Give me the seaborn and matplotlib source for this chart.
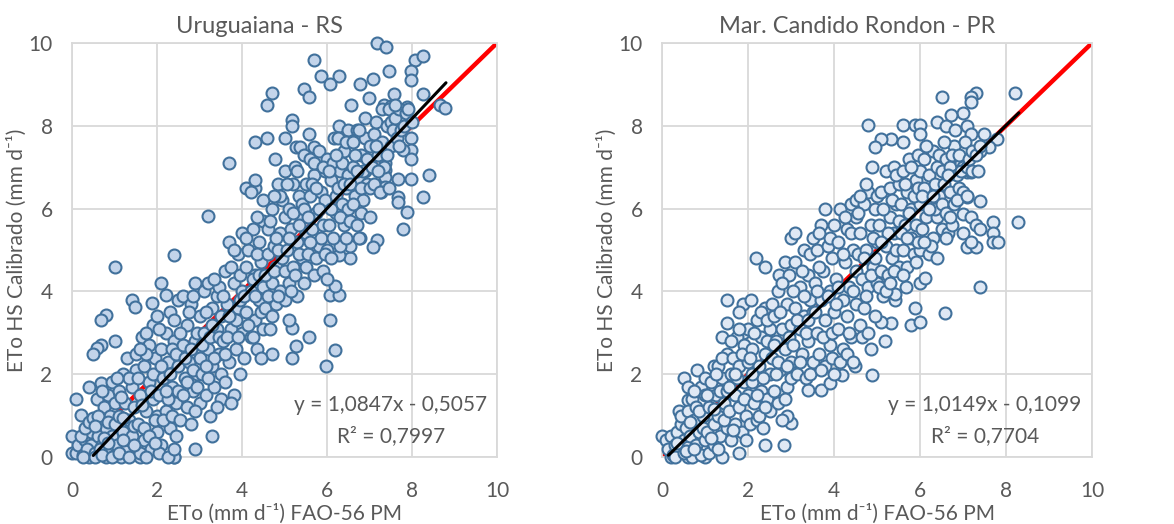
import numpy as np
import pandas as pd
import seaborn as sns
import matplotlib.pyplot as plt

# ETo FAO-56 PM (x) vs ETo Hargreaves-Samani calibrated (y)
uru_outer = [(7.18, 10.0), (7.39, 9.9), (5.69, 9.6), (8.08, 9.58), (8.27, 9.68), (7.47, 9.32),
             (7.98, 9.32), (7.98, 9.1), (5.87, 9.2), (6.28, 9.2), (6.08, 9.0), (7.08, 9.12),
             (6.77, 9.0), (5.45, 8.9), (5.58, 8.7), (4.7, 8.8), (4.59, 8.5), (6.56, 8.5),
             (6.98, 8.66), (7.58, 8.78), (8.27, 8.78), (8.67, 8.5), (8.78, 8.42), (7.33, 8.5),
             (7.5, 8.47), (7.88, 8.46), (5.18, 8.13), (5.18, 8.0), (6.28, 8.0), (5.57, 7.81),
             (4.3, 7.61), (4.59, 7.71), (5.0, 7.71), (5.26, 7.49), (5.37, 7.49), (5.69, 7.49),
             (6.16, 7.7), (7.98, 7.7), (7.98, 7.41), (7.79, 7.41), (7.98, 7.19), (7.37, 7.1),
             (7.37, 6.93), (7.37, 6.77), (7.66, 6.71), (7.98, 6.71), (8.39, 6.81), (7.37, 6.53),
             (7.27, 6.39), (7.66, 6.29), (7.66, 6.17), (8.27, 6.29), (7.88, 5.91), (7.79, 5.5),
             (7.18, 5.23), (7.08, 5.08), (3.69, 7.1), (4.78, 7.19), (3.19, 5.82), (4.09, 6.5),
             (4.31, 6.5), (4.31, 6.68), (2.1, 4.2), (2.39, 4.88), (1.0, 4.6), (1.4, 3.8),
             (1.49, 3.62), (0.81, 3.43), (0.69, 3.3), (1.88, 3.73), (2.2, 3.92), (1.0, 2.81),
             (0.69, 2.71), (0.59, 2.63), (0.49, 2.49), (0.39, 1.7), (0.69, 1.78), (0.1, 1.4),
             (0.2, 1.02), (0.0, 0.5), (0.0, 0.1), (0.59, 1.4), (3.3, 0.5), (2.9, 0.19),
             (2.39, 0.0), (6.08, 3.3), (6.18, 2.59), (5.98, 2.19), (5.58, 2.89), (5.26, 2.69),
             (5.18, 2.39), (5.18, 3.11), (5.1, 3.3), (4.7, 2.49), (6.08, 3.91), (6.28, 3.91),
             (6.18, 4.12), (6.55, 4.8), (6.55, 5.1), (6.78, 5.3), (6.28, 4.88)]

uru_core = [(0.1, 0.1), (0.15, 0.3), (0.25, 0.05), (0.3, 0.4), (0.35, 0.15), (0.4, 0.0), (0.45, 0.6),
            (0.5, 0.25), (0.2, 0.5), (0.3, 0.7), (0.4, 0.85), (0.5, 0.95), (0.45, 0.3), (0.35, 0.2),
            (0.55, 0.1), (0.6, 0.5), (0.65, 0.9), (0.7, 0.3), (0.75, 1.2), (0.8, 0.0), (0.8, 0.7),
            (0.85, 1.5), (0.9, 0.2), (0.9, 1.0), (0.95, 0.5), (1.0, 1.3), (1.0, 0.05), (0.6, 1.0),
            (0.7, 1.6), (0.95, 1.8), (0.65, 0.2), (0.75, 0.45), (0.85, 0.85), (1.0, 0.8), (0.55, 0.75),
            (1.05, 0.3), (1.1, 1.0), (1.1, 1.6), (1.15, 0.0), (1.2, 2.0), (1.2, 0.6), (1.25, 1.3),
            (1.3, 0.2), (1.3, 2.4), (1.35, 0.9), (1.4, 1.7), (1.4, 0.5), (1.45, 1.2), (1.5, 2.1),
            (1.5, 0.1), (1.5, 2.5), (1.25, 0.15), (1.35, 1.9), (1.45, 0.75), (1.05, 1.9), (1.15, 1.45),
            (1.2, 0.95), (1.55, 0.8), (1.6, 1.5), (1.6, 0.0), (1.65, 2.9), (1.7, 0.4), (1.7, 2.2),
            (1.75, 1.1), (1.8, 1.8), (1.8, 2.7), (1.85, 0.2), (1.9, 1.4), (1.9, 3.2), (1.95, 2.4),
            (2.0, 0.6), (2.0, 1.0), (2.0, 2.0), (1.55, 1.9), (1.65, 1.25), (1.75, 2.5), (1.85, 1.6),
            (1.95, 0.9), (1.7, 0.7), (1.6, 2.6), (1.8, 0.5), (1.9, 2.0), (2.0, 3.4), (1.75, 3.0),
            (2.05, 1.5), (2.1, 2.6), (2.1, 0.3), (2.15, 1.9), (2.2, 3.0), (2.2, 1.1), (2.25, 2.3),
            (2.3, 0.7), (2.3, 3.5), (2.35, 1.7), (2.4, 2.8), (2.4, 0.0), (2.45, 1.3), (2.5, 2.2),
            (2.5, 3.8), (2.05, 3.1), (2.15, 0.9), (2.25, 1.4), (2.35, 2.6), (2.45, 0.5), (2.5, 1.6),
            (2.3, 2.0), (2.4, 3.3), (2.2, 1.6), (2.45, 2.5), (2.1, 2.2), (2.35, 1.0),
            (2.55, 0.9), (2.6, 2.7), (2.6, 3.9), (2.65, 1.9), (2.7, 1.2), (2.7, 3.2), (2.75, 2.3),
            (2.8, 0.8), (2.8, 3.7), (2.85, 1.6), (2.9, 2.8), (2.9, 4.2), (2.95, 2.0), (3.0, 1.3),
            (3.0, 3.4), (2.6, 1.5), (2.65, 2.4), (2.75, 3.5), (2.85, 2.1), (2.95, 3.0), (2.55, 3.0),
            (2.7, 1.8), (2.8, 2.6), (2.9, 1.1), (3.0, 2.4), (2.85, 3.9), (2.95, 1.7),
            (3.05, 2.0), (3.1, 3.0), (3.1, 4.0), (3.15, 1.5), (3.2, 2.6), (3.2, 4.2), (3.25, 1.0),
            (3.3, 3.6), (3.3, 2.2), (3.35, 1.7), (3.4, 3.1), (3.4, 3.9), (3.45, 2.5), (3.5, 1.4),
            (3.5, 3.4), (3.05, 2.7), (3.15, 3.5), (3.25, 2.9), (3.35, 2.4), (3.45, 4.1), (3.5, 2.0),
            (3.2, 1.9), (3.3, 3.2), (3.4, 1.2), (3.45, 2.9), (3.15, 2.2), (3.35, 4.3),
            (3.55, 2.8), (3.6, 4.5), (3.6, 1.8), (3.65, 3.7), (3.7, 2.3), (3.7, 5.2), (3.75, 3.1),
            (3.8, 1.5), (3.8, 4.2), (3.85, 2.6), (3.9, 3.6), (3.9, 4.9), (3.95, 2.0), (4.0, 3.0),
            (4.0, 4.0), (4.0, 5.4), (3.55, 3.9), (3.65, 2.9), (3.75, 4.6), (3.85, 3.3), (3.95, 4.4),
            (3.6, 2.5), (3.7, 3.4), (3.8, 5.0), (3.9, 2.9), (3.75, 1.3), (3.95, 3.8),
            (4.05, 2.4), (4.1, 3.5), (4.1, 4.6), (4.15, 5.0), (4.2, 2.9), (4.2, 4.0), (4.25, 5.5),
            (4.3, 3.3), (4.3, 4.4), (4.35, 2.6), (4.4, 3.8), (4.4, 5.2), (4.45, 4.7), (4.5, 3.1),
            (4.5, 4.1), (4.5, 5.7), (4.05, 3.9), (4.15, 3.2), (4.25, 4.3), (4.35, 4.9), (4.45, 3.5),
            (4.2, 6.4), (4.35, 5.8), (4.45, 2.4), (4.1, 5.3), (4.3, 3.9), (4.4, 4.4), (4.5, 6.2),
            (4.25, 2.9), (4.55, 3.6), (4.6, 4.9), (4.6, 5.5), (4.65, 3.1), (4.7, 4.2), (4.7, 6.0),
            (4.75, 5.1), (4.8, 3.7), (4.8, 4.6), (4.85, 6.6), (4.9, 5.4), (4.9, 4.0), (4.95, 4.8),
            (5.0, 3.8), (5.0, 5.8), (5.0, 6.9), (4.55, 4.4), (4.65, 5.7), (4.75, 4.5), (4.85, 5.0),
            (4.95, 6.2), (4.6, 3.9), (4.7, 3.4), (4.8, 5.3), (4.9, 6.3), (4.75, 6.3), (5.0, 4.5),
            (4.85, 3.9), (5.05, 5.0), (5.1, 4.2), (5.1, 6.0), (5.15, 5.5), (5.2, 6.6), (5.2, 4.6),
            (5.25, 7.0), (5.3, 5.2), (5.3, 3.9), (5.35, 6.3), (5.4, 4.8), (5.4, 5.8), (5.45, 7.3),
            (5.5, 5.4), (5.5, 6.6), (5.05, 6.6), (5.15, 4.0), (5.25, 4.4), (5.35, 5.6), (5.45, 4.2),
            (5.5, 4.6), (5.2, 5.9), (5.3, 6.9), (5.4, 6.1), (5.1, 5.3), (5.45, 6.0), (5.35, 4.9),
            (5.55, 4.9), (5.6, 6.3), (5.6, 7.2), (5.65, 5.5), (5.7, 4.4), (5.7, 6.8), (5.75, 5.9),
            (5.8, 5.1), (5.8, 7.4), (5.85, 6.4), (5.9, 4.5), (5.9, 5.6), (5.95, 6.9), (6.0, 5.0),
            (6.0, 6.1), (6.0, 7.2), (5.55, 5.8), (5.65, 6.6), (5.75, 4.8), (5.85, 5.3), (5.95, 6.2),
            (5.6, 5.2), (5.7, 7.1), (5.8, 6.0), (5.9, 7.0), (5.95, 4.9), (6.0, 4.3), (5.75, 6.5),
            (6.05, 5.6), (6.1, 6.7), (6.1, 4.8), (6.15, 7.1), (6.2, 5.9), (6.2, 6.3), (6.25, 7.7),
            (6.3, 5.1), (6.3, 6.9), (6.35, 6.1), (6.4, 7.4), (6.4, 5.6), (6.45, 6.5), (6.5, 7.9),
            (6.5, 6.0), (6.05, 6.9), (6.15, 5.3), (6.25, 6.5), (6.35, 7.1), (6.45, 5.3), (6.5, 6.8),
            (6.2, 7.3), (6.3, 5.8), (6.4, 6.6), (6.1, 6.0), (6.45, 7.6),
            (6.55, 5.7), (6.6, 7.0), (6.6, 7.6), (6.65, 6.3), (6.7, 7.9), (6.7, 5.6), (6.75, 6.7),
            (6.8, 7.3), (6.8, 5.9), (6.85, 6.2), (6.9, 7.7), (6.9, 6.9), (6.95, 6.6), (7.0, 7.5),
            (7.0, 5.8), (6.55, 6.6), (6.65, 7.3), (6.75, 7.9), (6.85, 6.9), (6.95, 7.2), (6.6, 6.1),
            (6.7, 6.9), (6.8, 6.5), (7.0, 6.5), (6.9, 8.2), (6.75, 5.3),
            (7.05, 7.0), (7.1, 7.8), (7.1, 6.6), (7.15, 8.1), (7.2, 7.3), (7.25, 6.4), (7.3, 7.6),
            (7.3, 8.4), (7.35, 7.0), (7.4, 8.0), (7.45, 6.5), (7.5, 7.5), (7.5, 8.1), (7.2, 6.9),
            (7.4, 7.3), (7.15, 7.5), (7.45, 8.4), (7.55, 7.9), (7.6, 8.2), (7.65, 7.7), (7.7, 8.4),
            (7.75, 7.9), (7.8, 8.0), (7.85, 8.3), (7.9, 8.4), (8.0, 8.1), (7.7, 7.5), (7.6, 8.5),
            (0.25, 0.0), (0.55, 0.0), (0.7, 0.05), (0.95, 0.0), (1.1, 0.1), (1.35, 0.0), (1.6, 0.1),
            (1.75, 0.0), (2.05, 0.1), (2.25, 0.0), (2.4, 0.2), (1.45, 0.3), (0.85, 0.35), (1.2, 0.4),
            (1.95, 0.35)]

mcr_outer = [(8.22, 8.79), (7.3, 8.79), (7.19, 8.7), (7.19, 8.58), (6.51, 8.7), (6.99, 8.3),
             (6.71, 8.26), (6.4, 8.1), (6.6, 7.99), (4.79, 8.01), (5.6, 8.01), (5.89, 8.01),
             (6.01, 8.01), (6.81, 7.89), (7.09, 7.99), (7.19, 7.81), (7.48, 7.81), (7.79, 7.69),
             (7.6, 7.49), (7.4, 7.4), (5.32, 7.69), (5.09, 7.69), (4.96, 7.49), (5.6, 7.61),
             (4.88, 7.01), (6.01, 7.81), (7.09, 6.89), (7.19, 6.89), (7.09, 6.29), (7.4, 6.18),
             (6.99, 5.88), (7.19, 5.8), (7.3, 5.6), (7.4, 5.5), (7.69, 5.68), (7.69, 5.4),
             (7.69, 5.2), (7.81, 5.2), (8.29, 5.68), (6.99, 5.4), (7.09, 5.08), (7.3, 5.08),
             (7.19, 5.2), (7.4, 4.1), (6.59, 3.49), (5.8, 3.19), (5.89, 3.59), (6.01, 3.27),
             (5.67, 4.1), (6.01, 4.2), (6.11, 4.32), (5.41, 3.79), (5.41, 3.94), (5.32, 3.23),
             (5.09, 3.27), (5.19, 2.81), (4.88, 1.99), (2.19, 4.8), (2.39, 4.6), (2.71, 4.4),
             (1.5, 3.79), (1.89, 3.7), (1.78, 3.51), (1.5, 3.23), (1.4, 2.89), (1.89, 2.99),
             (2.08, 3.79), (0.81, 2.1), (1.2, 2.19), (0.5, 1.9), (0.6, 1.7), (0.6, 1.38),
             (0.4, 1.1), (0.0, 0.5), (0.1, 0.4), (2.83, 0.3), (2.39, 0.3), (3.01, 0.82),
             (2.91, 1.0), (3.4, 1.62), (3.69, 1.62), (1.8, 0.1), (1.01, 0.0), (0.6, 0.0),
             (0.2, 0.0), (4.48, 2.19), (4.19, 1.99), (3.91, 1.78)]

mcr_core = [(0.15, 0.2), (0.2, 0.5), (0.25, 0.05), (0.3, 0.3), (0.35, 0.6), (0.4, 0.15), (0.45, 0.8),
            (0.5, 0.4), (0.3, 0.0), (0.45, 1.0), (0.5, 0.1), (0.35, 0.35),
            (0.55, 0.7), (0.6, 1.1), (0.6, 0.25), (0.65, 0.5), (0.7, 1.4), (0.7, 0.0), (0.75, 0.9),
            (0.8, 0.3), (0.8, 1.2), (0.85, 0.6), (0.9, 1.7), (0.9, 0.05), (0.95, 1.0), (1.0, 0.4),
            (1.0, 1.5), (0.55, 0.15), (0.65, 0.85), (0.75, 0.2), (0.85, 1.1), (0.95, 0.7), (1.0, 1.9),
            (0.75, 1.6), (1.05, 0.6), (1.1, 1.2), (1.1, 0.1), (1.15, 1.8), (1.2, 0.8), (1.2, 0.3),
            (1.25, 1.5), (1.3, 2.2), (1.3, 1.0), (1.35, 0.5), (1.4, 1.9), (1.4, 0.0), (1.45, 1.3),
            (1.5, 0.7), (1.5, 2.5), (1.05, 1.5), (1.15, 0.45), (1.25, 2.0), (1.35, 1.6), (1.45, 0.9),
            (1.5, 1.6), (1.2, 1.15), (1.4, 2.4), (1.3, 0.2),
            (1.55, 1.1), (1.6, 2.0), (1.6, 0.4), (1.65, 2.4), (1.7, 1.5), (1.7, 0.8), (1.75, 2.9),
            (1.8, 1.2), (1.8, 2.2), (1.85, 0.6), (1.9, 1.8), (1.9, 2.7), (1.95, 1.0), (2.0, 2.3),
            (2.0, 1.5), (2.0, 3.1), (1.55, 1.7), (1.65, 0.65), (1.75, 1.9), (1.85, 2.5), (1.95, 0.4),
            (1.6, 2.8), (1.8, 3.1), (1.7, 2.0), (1.9, 1.4),
            (2.05, 0.8), (2.1, 1.8), (2.1, 2.6), (2.15, 1.3), (2.2, 3.3), (2.2, 0.9), (2.25, 2.2),
            (2.3, 1.6), (2.3, 2.9), (2.35, 0.7), (2.4, 2.5), (2.4, 3.6), (2.45, 1.4), (2.5, 2.0),
            (2.5, 3.1), (2.05, 2.4), (2.15, 3.0), (2.25, 1.0), (2.35, 1.9), (2.45, 2.8), (2.5, 1.1),
            (2.2, 1.5), (2.3, 3.5), (2.4, 1.2), (2.1, 2.0), (2.45, 3.3),
            (2.55, 2.4), (2.6, 1.6), (2.6, 3.4), (2.65, 2.8), (2.7, 1.3), (2.7, 4.0), (2.75, 2.1),
            (2.8, 3.1), (2.8, 0.9), (2.85, 2.6), (2.9, 3.7), (2.9, 1.7), (2.95, 4.4), (3.0, 2.3),
            (3.0, 3.2), (3.0, 5.3), (2.55, 3.7), (2.65, 2.0), (2.75, 3.5), (2.85, 1.4), (2.95, 2.9),
            (2.6, 2.7), (2.7, 2.3), (2.8, 4.2), (2.9, 2.2), (3.0, 1.9), (2.85, 4.7),
            (3.05, 2.7), (3.1, 3.6), (3.1, 4.7), (3.15, 2.0), (3.2, 3.1), (3.2, 4.1), (3.25, 2.5),
            (3.3, 5.0), (3.3, 3.4), (3.35, 1.9), (3.4, 4.4), (3.4, 2.8), (3.45, 3.8), (3.5, 5.3),
            (3.5, 2.3), (3.05, 4.0), (3.15, 3.3), (3.25, 4.5), (3.35, 3.0), (3.45, 4.9), (3.5, 3.5),
            (3.2, 2.3), (3.3, 3.9), (3.4, 3.3), (3.1, 5.4), (3.45, 2.0),
            (3.55, 4.2), (3.6, 3.0), (3.6, 5.0), (3.65, 2.5), (3.7, 3.8), (3.7, 5.6), (3.75, 4.5),
            (3.8, 2.2), (3.8, 3.3), (3.85, 5.1), (3.9, 4.0), (3.9, 2.7), (3.95, 4.8), (4.0, 3.5),
            (4.0, 5.6), (4.0, 2.0), (3.55, 3.5), (3.65, 4.6), (3.75, 2.9), (3.85, 3.9), (3.95, 3.0),
            (3.6, 4.0), (3.7, 2.1), (3.8, 6.0), (3.9, 5.3), (3.95, 2.4), (3.65, 5.4),
            (4.05, 4.3), (4.1, 3.1), (4.1, 5.2), (4.15, 6.0), (4.2, 3.8), (4.2, 2.6), (4.25, 4.7),
            (4.3, 5.5), (4.3, 3.4), (4.35, 4.1), (4.4, 6.1), (4.4, 2.9), (4.45, 5.0), (4.5, 3.7),
            (4.5, 4.5), (4.5, 5.8), (4.05, 3.7), (4.15, 2.3), (4.25, 5.8), (4.35, 3.0), (4.45, 4.0),
            (4.2, 4.9), (4.3, 2.5), (4.4, 5.4), (4.1, 4.1), (4.45, 2.3), (4.5, 6.2),
            (4.55, 4.9), (4.6, 3.2), (4.6, 5.4), (4.65, 4.3), (4.7, 6.1), (4.7, 3.6), (4.75, 5.0),
            (4.8, 4.1), (4.8, 6.4), (4.85, 2.6), (4.85, 5.6), (4.9, 4.6), (4.95, 3.4), (5.0, 5.2),
            (5.0, 6.3), (5.0, 4.2), (4.55, 5.9), (4.65, 2.9), (4.75, 3.9), (4.85, 4.4), (4.95, 6.0),
            (4.6, 6.3), (4.7, 4.8), (4.8, 3.0), (4.9, 5.3), (4.95, 4.8), (4.75, 6.6),
            (5.05, 5.6), (5.1, 4.5), (5.1, 6.4), (5.15, 3.9), (5.2, 5.1), (5.2, 6.9), (5.25, 4.4),
            (5.3, 5.8), (5.3, 6.5), (5.35, 4.8), (5.4, 5.4), (5.4, 7.0), (5.45, 6.1), (5.5, 4.6),
            (5.5, 5.7), (5.05, 4.1), (5.15, 6.0), (5.25, 5.4), (5.35, 6.2), (5.45, 5.0), (5.5, 6.6),
            (5.2, 4.0), (5.3, 4.2), (5.4, 4.5), (5.1, 5.2), (5.45, 6.8),
            (5.55, 6.1), (5.6, 5.0), (5.6, 6.9), (5.65, 5.6), (5.7, 4.6), (5.7, 6.4), (5.75, 7.2),
            (5.8, 5.3), (5.8, 6.0), (5.85, 4.9), (5.9, 6.7), (5.9, 5.6), (5.95, 7.3), (6.0, 6.1),
            (6.0, 5.0), (6.0, 6.9), (5.55, 5.4), (5.65, 6.6), (5.75, 5.9), (5.85, 6.3), (5.95, 5.2),
            (5.6, 4.4), (5.7, 5.3), (5.8, 7.0), (5.9, 4.7), (5.95, 6.5),
            (6.05, 5.5), (6.1, 6.5), (6.1, 7.2), (6.15, 5.8), (6.2, 4.9), (6.2, 6.8), (6.25, 6.2),
            (6.3, 7.4), (6.3, 5.3), (6.35, 6.6), (6.4, 5.8), (6.4, 7.0), (6.45, 6.3), (6.5, 5.5),
            (6.5, 6.9), (6.05, 6.3), (6.15, 7.5), (6.25, 5.1), (6.35, 6.0), (6.45, 7.3), (6.2, 6.0),
            (6.4, 4.8), (6.1, 5.2), (6.3, 6.3), (6.5, 6.1),
            (6.55, 6.6), (6.6, 7.2), (6.6, 5.9), (6.65, 5.4), (6.7, 6.4), (6.7, 7.0), (6.75, 5.6),
            (6.8, 7.5), (6.8, 6.1), (6.85, 6.8), (6.9, 6.5), (6.95, 7.1), (7.0, 7.0), (7.0, 6.4),
            (6.55, 7.6), (6.65, 6.8), (6.75, 7.3), (6.85, 6.2), (6.9, 7.3), (6.6, 5.3), (6.7, 5.8),
            (6.95, 6.9), (7.05, 7.6), (7.1, 7.0), (7.15, 7.2), (7.2, 7.4), (7.3, 7.3), (7.4, 7.5),
            (7.1, 6.3), (7.2, 6.9), (7.35, 6.9)]

titles = ["Uruguaiana - RS", "Mar. Candido Rondon - PR"]
slopes = [1.0847, 1.0149]
intercepts = [-0.5057, -0.1099]
r2 = ["0,7997", "0,7704"]
eq_text = ["y = 1,0847x - 0,5057", "y = 1,0149x - 0,1099"]
trend_x = [(0.5, 8.8), (0.15, 8.3)]
fills = ["#c3d4ea", "#dfe8f4"]

sns.set_style("white")
plt.rcParams["font.family"] = ["Lato", "DejaVu Sans"]
gray = "#595959"
edge = "#41719c"

fig = plt.figure(figsize=(11.74, 5.24), dpi=100)
axes = [fig.add_axes([72 / 1174, 67 / 524, 425 / 1174, 414 / 524]),
        fig.add_axes([662 / 1174, 67 / 524, 430 / 1174, 414 / 524])]

for i, (ax, pts) in enumerate(zip(axes, [uru_outer + uru_core, mcr_outer + mcr_core])):
    df = pd.DataFrame(pts, columns=["x", "y"])
    one = pd.DataFrame({"x": [0, 10], "y": [0, 10]})
    sns.lineplot(data=one, x="x", y="y", ax=ax, color="#ff0000", linewidth=3.2, zorder=2)
    sns.scatterplot(data=df, x="x", y="y", ax=ax, s=74, color=fills[i], edgecolor=edge,
                    linewidth=1.5, zorder=3, clip_on=False)
    tx = np.array(trend_x[i])
    tr = pd.DataFrame({"x": tx, "y": slopes[i] * tx + intercepts[i]})
    sns.lineplot(data=tr, x="x", y="y", ax=ax, color="black", linewidth=2.2, zorder=4)

    ax.set_xlim(0, 10)
    ax.set_ylim(0, 10)
    ax.set_xticks(range(0, 11, 2))
    ax.set_yticks(range(0, 11, 2))
    ax.grid(True, color="#d9d9d9", linewidth=1.3)
    ax.set_axisbelow(True)
    for sp in ax.spines.values():
        sp.set_color("#d9d9d9")
        sp.set_linewidth(1.3)
    ax.tick_params(length=0, labelsize=15, labelcolor=gray)
    ax.tick_params(axis="x", pad=17)
    ax.tick_params(axis="y", pad=14)
    ax.set_xlabel("ETo (mm d⁻¹) FAO-56 PM", fontsize=15, color=gray, labelpad=2)
    ax.set_ylabel("ETo HS Calibrado (mm d⁻¹)", fontsize=15, color=gray, labelpad=1)
    ax.set_title(titles[i], fontsize=17, color=gray, x=0.44 if i == 0 else 0.453, pad=7)
    ax.text(7.5, 1.25, eq_text[i], fontsize=15, color=gray, ha="center", va="center")
    ax.text(7.52, 0.5, "R² = " + r2[i], fontsize=15, color=gray, ha="center", va="center")

fig.savefig("out.png", dpi=100)
